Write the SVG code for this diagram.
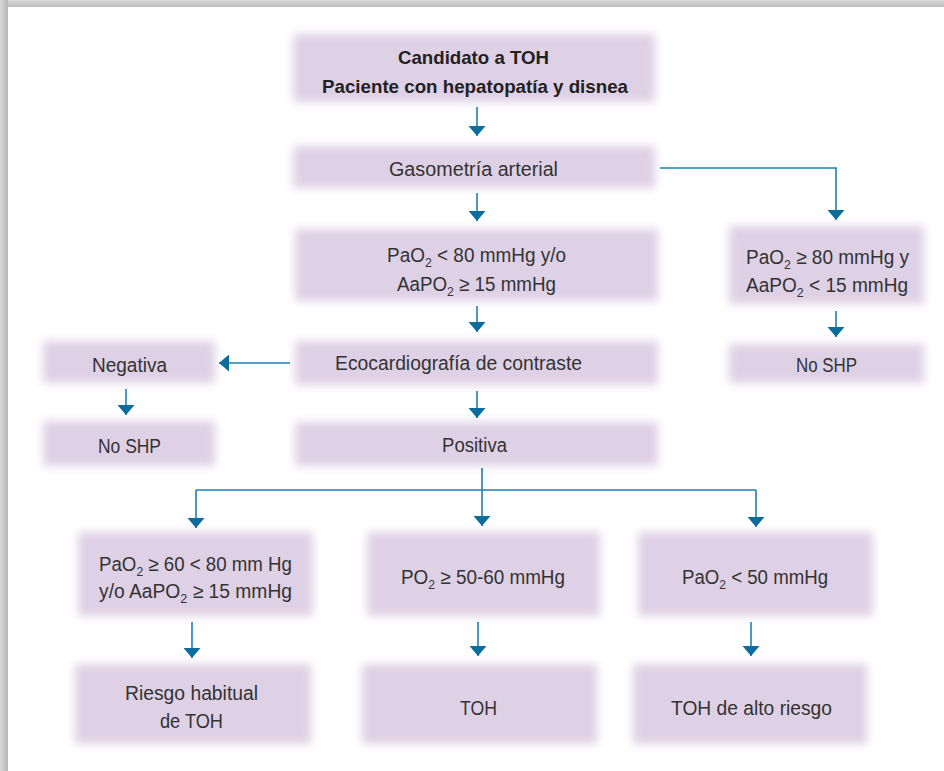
<svg xmlns="http://www.w3.org/2000/svg" width="944" height="771" viewBox="0 0 944 771">
<style>
text{font-family:"Liberation Sans",Arial,sans-serif;font-size:20px;fill:#333}
.b{font-weight:bold;fill:#222;font-size:19px}
.s{font-size:13px}
.box{fill:#ded0e5;filter:url(#soft)}
.c{fill:none;stroke:#1d80b2;stroke-width:1.6}
.ca{fill:none;stroke:#1d80b2;stroke-width:1.6;marker-end:url(#ah)}
</style>
<defs>
<filter id="soft" x="-10%" y="-30%" width="120%" height="160%"><feGaussianBlur stdDeviation="5"/></filter>
<marker id="ah" markerUnits="userSpaceOnUse" markerWidth="12" markerHeight="18" refX="10" refY="8.5" orient="auto"><path d="M0,0 L10,8.5 L0,17 z" fill="#0b6d9e"/></marker>
<linearGradient id="gl" x1="0" y1="0" x2="1" y2="0"><stop offset="0" stop-color="#dadada"/><stop offset="1" stop-color="#b6b6b6"/></linearGradient>
<linearGradient id="gt" x1="0" y1="0" x2="0" y2="1"><stop offset="0" stop-color="#dadada"/><stop offset="1" stop-color="#bcbcbc"/></linearGradient>
</defs>
<rect x="0" y="0" width="944" height="771" fill="#fff"/>
<rect x="0" y="0" width="944" height="7" fill="url(#gt)"/>
<rect x="0" y="0" width="8" height="771" fill="url(#gl)"/>
<rect x="8" y="7" width="936" height="764" fill="#fff"/>

<g id="n1"><rect class="box" x="293" y="34" width="362" height="68"/>
<text class="b" x="398" y="64" textLength="151" lengthAdjust="spacingAndGlyphs">Candidato a TOH</text>
<text class="b" x="322" y="93" textLength="306" lengthAdjust="spacingAndGlyphs">Paciente con hepatopatía y disnea</text></g>

<g id="n2"><rect class="box" x="293" y="146" width="362" height="42"/>
<text x="389" y="176" textLength="169" lengthAdjust="spacingAndGlyphs">Gasometría arterial</text></g>

<g id="n3"><rect class="box" x="295" y="229" width="363" height="72"/>
<text x="387" y="262" textLength="179" lengthAdjust="spacingAndGlyphs">PaO<tspan class="s" dy="5">2</tspan><tspan dy="-5"> &lt; 80 mmHg y/o</tspan></text>
<text x="397" y="291" textLength="159" lengthAdjust="spacingAndGlyphs">AaPO<tspan class="s" dy="5">2</tspan><tspan dy="-5"> ≥ 15 mmHg</tspan></text></g>

<g id="n4"><rect class="box" x="729" y="226" width="195" height="78"/>
<text x="746" y="264" textLength="163" lengthAdjust="spacingAndGlyphs">PaO<tspan class="s" dy="5">2</tspan><tspan dy="-5"> ≥ 80 mmHg y</tspan></text>
<text x="746" y="292" textLength="162" lengthAdjust="spacingAndGlyphs">AaPO<tspan class="s" dy="5">2</tspan><tspan dy="-5"> &lt; 15 mmHg</tspan></text></g>

<g id="n5"><rect class="box" x="729" y="344" width="195" height="39"/>
<text x="796" y="372" textLength="61" lengthAdjust="spacingAndGlyphs">No SHP</text></g>

<g id="n6"><rect class="box" x="295" y="341" width="363" height="44"/>
<text x="335" y="370" textLength="247" lengthAdjust="spacingAndGlyphs">Ecocardiografía de contraste</text></g>

<g id="n7"><rect class="box" x="43" y="341" width="172" height="42"/>
<text x="92" y="372" textLength="75" lengthAdjust="spacingAndGlyphs">Negativa</text></g>

<g id="n8"><rect class="box" x="43" y="421" width="172" height="45"/>
<text x="98" y="453" textLength="63" lengthAdjust="spacingAndGlyphs">No SHP</text></g>

<g id="n9"><rect class="box" x="295" y="422" width="363" height="44"/>
<text x="442" y="452" textLength="65" lengthAdjust="spacingAndGlyphs">Positiva</text></g>

<g id="n10"><rect class="box" x="78" y="532" width="235" height="84"/>
<text x="99" y="571" textLength="193" lengthAdjust="spacingAndGlyphs">PaO<tspan class="s" dy="5">2</tspan><tspan dy="-5"> ≥ 60 &lt; 80 mm Hg</tspan></text>
<text x="99" y="598" textLength="193" lengthAdjust="spacingAndGlyphs">y/o AaPO<tspan class="s" dy="5">2</tspan><tspan dy="-5"> ≥ 15 mmHg</tspan></text></g>

<g id="n11"><rect class="box" x="75" y="664" width="236" height="80"/>
<text x="125" y="700" textLength="133" lengthAdjust="spacingAndGlyphs">Riesgo habitual</text>
<text x="160" y="728" textLength="63" lengthAdjust="spacingAndGlyphs">de TOH</text></g>

<g id="n12"><rect class="box" x="367" y="532" width="233" height="84"/>
<text x="401" y="584" textLength="164" lengthAdjust="spacingAndGlyphs">PO<tspan class="s" dy="5">2</tspan><tspan dy="-5"> ≥ 50-60 mmHg</tspan></text></g>

<g id="n13"><rect class="box" x="362" y="664" width="235" height="80"/>
<text x="460" y="715" textLength="37" lengthAdjust="spacingAndGlyphs">TOH</text></g>

<g id="n14"><rect class="box" x="638" y="532" width="235" height="84"/>
<text x="682" y="584" textLength="146" lengthAdjust="spacingAndGlyphs">PaO<tspan class="s" dy="5">2</tspan><tspan dy="-5"> &lt; 50 mmHg</tspan></text></g>

<g id="n15"><rect class="box" x="633" y="664" width="234" height="80"/>
<text x="671" y="715" textLength="161" lengthAdjust="spacingAndGlyphs">TOH de alto riesgo</text></g>

<g id="connectors">
<path class="ca" d="M477,107 V136"/>
<path class="ca" d="M660,168 H836 V220"/>
<path class="ca" d="M477,193 V221"/>
<path class="ca" d="M836,311 V337"/>
<path class="ca" d="M477,306 V332"/>
<path class="ca" d="M290,363 H219"/>
<path class="ca" d="M126,389 V415"/>
<path class="ca" d="M477,391 V418"/>
<path class="c" d="M196,490 H756"/>
<path class="ca" d="M482,468 V526"/>
<path class="ca" d="M196,490 V528"/>
<path class="ca" d="M756,490 V527"/>
<path class="ca" d="M192,622 V658"/>
<path class="ca" d="M478,622 V656"/>
<path class="ca" d="M751,622 V656"/>
</g>
</svg>
